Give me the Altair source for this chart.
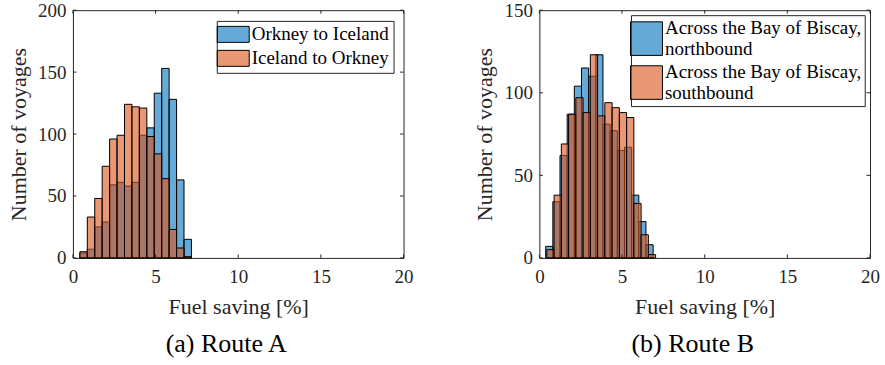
import altair as alt
import numpy as np
import pandas as pd

# ---- data: voyage counts per fuel-saving bin (15 bins per direction) ----
x_ticks = [0, 5, 10, 15, 20]

route_a_names = ["Orkney to Iceland", "Iceland to Orkney"]
route_a_ranges = [(0.42, 7.17), (0.42, 7.17)]
route_a_counts_out = [4, 7, 25, 29, 59, 61, 58, 61, 99, 105, 133, 153, 128, 63, 15]
route_a_counts_back = [5, 33, 48, 74, 96, 99, 124, 122, 121, 98, 84, 64, 23, 8, 1]
route_a_yticks = [0, 50, 100, 150, 200]

route_b_names = ["Across the Bay of Biscay, northbound", "Across the Bay of Biscay, southbound"]
route_b_ranges = [(0.38, 6.88), (0.45, 7.03)]
route_b_counts_north = [7, 34, 62, 87, 104, 115, 110, 123, 81, 77, 65, 67, 38, 22, 8]
route_b_counts_south = [5, 38, 69, 87, 97, 88, 123, 86, 94, 91, 88, 85, 33, 14, 2]
route_b_yticks = [0, 50, 100, 150]

# ---- styling ----
SERIF = "Liberation Serif"
AXIS_COLOR = "#262626"
FILLS = ["rgba(0,114,189,0.6)", "rgba(217,83,25,0.6)"]
W, H = 331, 248
TICK = 3.5


def hist_frame(names, ranges, counts):
    rows = []
    for name, (lo, hi), cnt in zip(names, ranges, counts):
        edges = np.linspace(lo, hi, len(cnt) + 1)
        for a, b, c in zip(edges[:-1], edges[1:], cnt):
            rows.append({"series": name, "start": a, "end": b, "count": c, "base": 0})
    return pd.DataFrame(rows)


def panel(df, names, y_ticks, caption, legend_x, legend_y, swatch_path, label_expr,
          row_padding, legend_pad):
    x_scale = alt.Scale(domain=[0, 20], nice=False, zero=False)
    y_scale = alt.Scale(domain=[0, max(y_ticks)], nice=False)

    bars = alt.Chart(df).mark_rect(stroke="black", strokeWidth=1).encode(
        x=alt.X("start:Q", scale=x_scale,
                axis=alt.Axis(values=x_ticks, title="Fuel saving [%]", format="d")),
        x2="end:Q",
        y=alt.Y("count:Q", scale=y_scale,
                axis=alt.Axis(values=y_ticks, title="Number of voyages", format="d")),
        y2="base:Q",
        color=alt.Color(
            "series:N",
            scale=alt.Scale(domain=names, range=FILLS),
            legend=alt.Legend(
                title=None, orient="none", legendX=legend_x, legendY=legend_y,
                strokeColor=AXIS_COLOR, fillColor="white", padding=legend_pad,
                cornerRadius=0,
                symbolType=swatch_path, symbolSize=256,
                symbolStrokeColor="black", symbolStrokeWidth=1,
                symbolOffset=3, labelOffset=9,
                labelFont=SERIF, labelFontSize=19, labelColor="black",
                labelLimit=400, rowPadding=row_padding, labelExpr=label_expr,
            ),
        ),
    )

    # inward tick marks on all four sides of the box
    xt = pd.DataFrame({"start": x_ticks})
    yt = pd.DataFrame({"count": y_ticks})
    rule = dict(color=AXIS_COLOR, strokeWidth=1)
    ticks_bottom = alt.Chart(xt).mark_rule(**rule).encode(
        x=alt.X("start:Q", scale=x_scale), y=alt.value(H), y2=alt.value(H - TICK))
    ticks_top = alt.Chart(xt).mark_rule(**rule).encode(
        x=alt.X("start:Q", scale=x_scale), y=alt.value(0), y2=alt.value(TICK))
    ticks_left = alt.Chart(yt).mark_rule(**rule).encode(
        y=alt.Y("count:Q", scale=y_scale), x=alt.value(0), x2=alt.value(TICK))
    ticks_right = alt.Chart(yt).mark_rule(**rule).encode(
        y=alt.Y("count:Q", scale=y_scale), x=alt.value(W), x2=alt.value(W - TICK))

    return alt.layer(bars, ticks_bottom, ticks_top, ticks_left, ticks_right).properties(
        width=W, height=H,
        title=alt.TitleParams(caption, orient="bottom", anchor="middle", dx=-12, offset=13,
                              font=SERIF, fontSize=26, fontWeight="normal", color="black"),
    )


df_a = hist_frame(route_a_names, route_a_ranges, [route_a_counts_out, route_a_counts_back])
df_b = hist_frame(route_b_names, route_b_ranges, [route_b_counts_north, route_b_counts_south])

left = panel(df_a, route_a_names, route_a_yticks, "(a) Route A", 144, 10.7,
             "M-2,-1H2V1H-2Z", "datum.label", 3, 4)
# two-line entries: the tall swatch sits beside both lines of its label
right = panel(df_b, route_b_names, route_b_yticks, "(b) Route B", 91.7, 5,
              "M-2,-0.73H2V3.47H-2Z", "split(replace(datum.label, ', ', ',|'), '|')", 3, 3)

chart = alt.hconcat(left, right, spacing=136, bounds="flush").resolve_scale(
    color="independent"
).resolve_legend(color="independent").properties(
    padding={"left": 7, "top": 0, "right": 5, "bottom": 5}
).configure_view(
    stroke=AXIS_COLOR, strokeWidth=1
).configure_axis(
    grid=False, ticks=False, domain=False,
    labelFont=SERIF, labelFontSize=19, labelColor=AXIS_COLOR, labelFlush=False,
    titleFont=SERIF, titleFontSize=22, titleFontWeight="normal", titleColor=AXIS_COLOR,
).configure_axisX(
    labelPadding=10, titlePadding=10
).configure_axisY(
    labelPadding=7, titlePadding=7
)

chart.save("out.html", embed_options={"renderer": "svg", "actions": False})
